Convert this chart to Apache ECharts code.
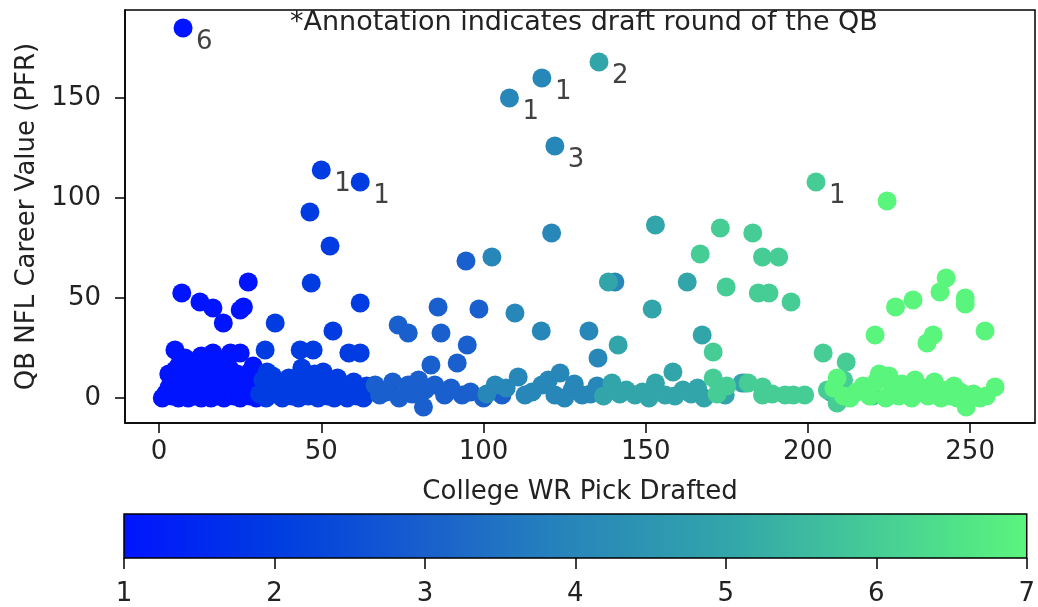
<!DOCTYPE html>
<html>
<head>
<meta charset="utf-8">
<script src="https://cdn.jsdelivr.net/npm/echarts@6/dist/echarts.min.js"></script>
<style>
html,body{margin:0;padding:0;background:#fff;}
#chart{width:1038px;height:607px;}
</style>
</head>
<body>
<div id="chart"></div>
<script>
// ---- tick labels ----
const xTicks = [0, 50, 100, 150, 200, 250];
const yTicks = [0, 50, 100, 150];
const colorbarTicks = [1, 2, 3, 4, 5, 6, 7];
const colormapColors = ['#0014ff', '#003ce1', '#195fcd', '#2887b9', '#32a5aa', '#46cd96', '#5af57d'];

// ---- points: [WR pick, QB career value], grouped by WR draft round ----
const round1 = [
  [7.4,185],[7,52.5],[12.6,48],[16.6,45],[19.8,37.5],[25,44],[26,45.5],[27.5,58],
  [4.9,24],[16.6,22.5],[22,22.5],[25,22.5],[20.3,16.5],
  [1,0],[2,2],[3,5],[4,1],[4,9],[5,14],[5,3],[6,0],[6,7],[7,18],[7,11],[8,2],[8,5],
  [9,15],[9,0],[10,9],[10,3],[11,12],[11,1],[12,6],[12,19],[13,0],[13,3],[14,10],[14,15],
  [15,2],[15,7],[16,0],[16,13],[17,4],[18,9],[18,1],[19,17],[19,5],[20,0],[20,11],[21,3],
  [22,8],[22,14],[23,1],[24,5],[24,12],[25,0],[26,3],[26,9],[27,6],[28,1],[28,13],[29,4],[30,0],[30,8],
  [3,12],[6,16],[8,20],[10,17],[13,21],[15,11],[17,16],[21,18],[23,9],[27,11],[29,16]
];
const round2 = [
  [32.7,24],[33.3,13],[35.8,37.5],[43.5,24],[47.5,24],[44,15],[46.5,93],[46.9,57.5],[50,114],
  [50.6,13],[52.7,76],[53.6,33.5],[58.5,22.5],[62,22.5],[62,47.5],[62,108],
  [31,2],[32,9],[33,0],[34,5],[35,11],[36,2],[37,7],[38,0],[39,4],[40,10],[41,1],[42,6],
  [43,0],[44,3],[45,9],[46,1],[47,5],[48,12],[49,0],[50,3],[51,7],[52,1],[53,4],[54,0],
  [55,10],[56,2],[57,6],[58,0],[59,3],[60,8],[61,1],[62,4],[63,0],[64,6]
];
const round3 = [
  [66.6,6.5],[68,1.5],[73.7,36.5],[76.8,32.5],[76.8,6.5],[82,4],[81.5,-4.5],[83.8,16.5],[85,6.5],
  [86,45.5],[86.9,32.5],[88,1.5],[91.9,17.5],[93.4,1.5],[94.6,68.5],[95,26.5],[98.6,44.5],
  [70,3],[72,8],[74,0],[78,2],[80,9],[90,5],[96,3],[100,0],[105.7,1.5]
];
const round4 = [
  [102.6,70.5],[108,150],[109.7,42.5],[110.7,10.5],[118,160],[117.8,33.5],[121,82.5],[122,126],
  [123.6,12.5],[132.5,33.5],[135.3,20],[103.6,6.5],[112.8,1.5],[118,6.5],[122,1.5],
  [127.3,4],[130.4,1.5],[101,2],[107,5],[115,3],[120,9],[125,0],[128,7],[133,2],[135,6],[140.5,58]
];
const round5 = [
  [135.6,168],[138.5,58],[139.6,7.5],[141.5,26.5],[144,4],[146.7,1.5],[152,44.5],[153,86.5],
  [153,7.5],[156,1.5],[158.4,13],[161.5,4],[162.8,58],[166,5],[167.4,31.5],[137,1],[142,2],
  [149,3],[151,0],[159,1],[164,2],[168,0],[174.5,1.5],[179.7,7.5],[180.6,7.5],[207,3]
];
const round6 = [
  [166.8,72],[170.8,23],[170.8,10],[173,85],[174.8,55.5],[183,82.5],[186,70.5],[191,70.5],
  [184.7,52.5],[188,52.5],[194.8,48],[186,1.5],[186,5.5],[193,1.5],[195.5,1.5],[199,1.5],
  [202.5,108],[204.7,22.5],[211.8,18],[172,2],[175,6],[181.6,7.5],[189,2],[206,4],[209,7.5],
  [210,0],[211,9],[209,-2.5],[220,1]
];
const round7 = [
  [224.4,98.5],[220.7,31.5],[227,45.5],[232.4,49],[236.7,27.5],[238.6,31.5],[240.7,53],[242.6,60],
  [248.5,47],[248.5,50],[254.6,33.5],[257.7,5.5],
  [208,5],[209,10],[211,1],[213,0],[215,3],[217,6],[219,1],[221,8],[222,12],[224,0],[225,11],
  [226,4],[228,1],[229,7],[230,2],[232,0],[233,9],[234,3],[236,5],[237,1],[239,8],[240,2],
  [241,0],[243,4],[244,1],[245,6],[246,0],[247,3],[248.8,-4.5],[250,1],[251,2],[253,0],[255,1]
];
const rounds = [round1, round2, round3, round4, round5, round6, round7];

// ---- annotations: [WR pick, QB value, QB draft round] ----
const annotations = [
  [7.4,185,'6'],[50,114,'1'],[62,108,'1'],[108,150,'1'],[118,160,'1'],
  [135.6,168,'2'],[122,126,'3'],[202.5,108,'1']
];

const FONT = 'DejaVu Sans';
const scatterData = [];
rounds.forEach((pts, i) => pts.forEach(p => scatterData.push([p[0], p[1], i + 1])));

const chart = echarts.init(document.getElementById('chart'));
const stops = colormapColors.map((c, i) => ({offset: i / (colormapColors.length - 1), color: c}));

chart.setOption({
  animation: false,
  backgroundColor: '#fff',
  textStyle: {fontFamily: FONT},
  graphic: [{
    type: 'text', left: 290, top: 9,
    style: {text: '*Annotation indicates draft round of the QB', fontFamily: FONT, fontSize: 27, fill: '#222'}
  }],
  visualMap: {
    type: 'continuous', show: false, min: 1, max: 7, dimension: 2, seriesIndex: 0,
    inRange: {color: colormapColors}
  },
  grid: [
    {left: 125, right: 3, top: 10, height: 413, show: true, borderColor: '#000', borderWidth: 1.5},
    {left: 124, right: 3, top: 514, height: 48}
  ],
  xAxis: [{
    type: 'value', gridIndex: 0, min: -10.5, max: 270,
    name: 'College WR Pick Drafted', nameLocation: 'middle', nameGap: 56,
    nameTextStyle: {fontSize: 26, color: '#222', fontFamily: FONT},
    axisLine: {show: true, onZero: false, lineStyle: {color: '#000', width: 1.5}},
    axisTick: {show: true, customValues: xTicks, length: 10, lineStyle: {color: '#000', width: 1.5}},
    axisLabel: {customValues: xTicks, fontSize: 26, color: '#222', margin: 16, fontFamily: FONT},
    splitLine: {show: false}
  }, {
    type: 'value', gridIndex: 1, min: 1, max: 7, interval: 1,
    axisLine: {show: false},
    axisTick: {show: true, length: 11, lineStyle: {color: '#000', width: 1.5}},
    axisLabel: {fontSize: 26, color: '#222', margin: 23, fontFamily: FONT},
    splitLine: {show: false}
  }],
  yAxis: [{
    type: 'value', gridIndex: 0, min: -12.5, max: 194,
    name: 'QB NFL Career Value (PFR)', nameLocation: 'middle', nameGap: 85, nameRotate: 90,
    nameTextStyle: {fontSize: 26, color: '#222', fontFamily: FONT},
    axisLine: {show: true, onZero: false, lineStyle: {color: '#000', width: 1.5}},
    axisTick: {show: true, customValues: yTicks, length: 10, lineStyle: {color: '#000', width: 1.5}},
    axisLabel: {customValues: yTicks, fontSize: 26, color: '#222', margin: 24, fontFamily: FONT},
    splitLine: {show: false}
  }, {
    type: 'value', gridIndex: 1, min: 0, max: 1, show: false
  }],
  series: [{
    type: 'scatter', xAxisIndex: 0, yAxisIndex: 0,
    symbol: 'circle', symbolSize: 19,
    itemStyle: {opacity: 1},
    data: scatterData
  }, {
    type: 'scatter', xAxisIndex: 0, yAxisIndex: 0,
    symbolSize: 2, itemStyle: {color: 'rgba(0,0,0,0)'},
    label: {
      show: true, position: [14, 2], align: 'left', verticalAlign: 'top',
      formatter: p => p.data[2], fontSize: 26, color: '#111', fontFamily: FONT
    },
    data: annotations, z: 5
  }, {
    type: 'custom', xAxisIndex: 1, yAxisIndex: 1,
    renderItem: (params, api) => {
      const p0 = api.coord([api.value(0), 1]);
      const p1 = api.coord([api.value(1), 0]);
      return {
        type: 'rect',
        shape: {x: p0[0], y: p0[1], width: p1[0] - p0[0], height: p1[1] - p0[1]},
        style: {fill: new echarts.graphic.LinearGradient(0, 0, 1, 0, stops), stroke: '#000', lineWidth: 1.5}
      };
    },
    data: [[colorbarTicks[0], colorbarTicks[colorbarTicks.length - 1]]]
  }]
});
</script>
</body>
</html>
